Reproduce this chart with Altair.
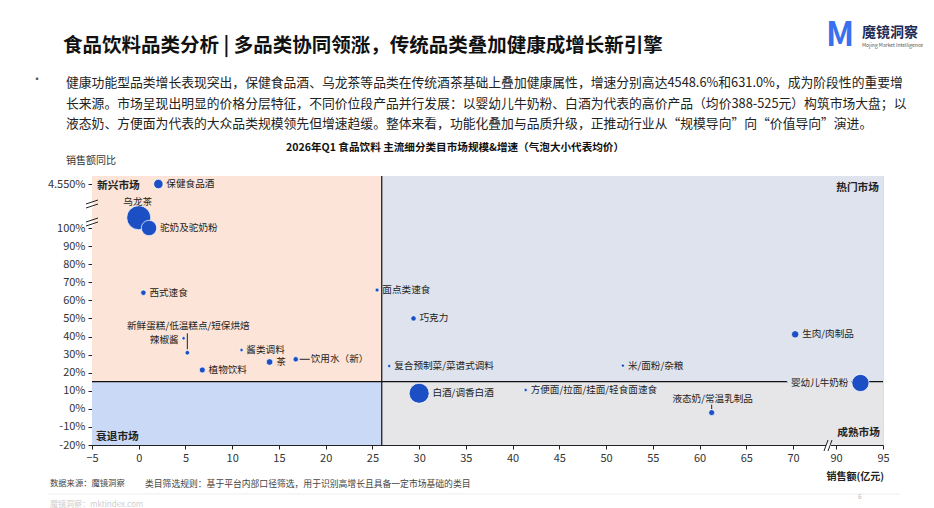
import math
import altair as alt
import pandas as pd

# ---------------- data ----------------
names = ["保健食品酒", "乌龙茶", "驼奶及驼奶粉", "西式速食", "面点类速食", "巧克力",
         "新鲜蛋糕/低温糕点/短保烘焙", "辣椒酱", "酱类调料", "茶", "饮用水（新）", "植物饮料",
         "复合预制菜/菜谱式调料", "白酒/调香白酒", "方便面/拉面/挂面/轻食面速食", "米/面粉/杂粮",
         "液态奶/常温乳制品", "生肉/肉制品", "婴幼儿牛奶粉"]
sales = [2.1, 0.0, 1.1, 0.5, 25.5, 29.4, 5.2, 4.8, 11.0, 14.0, 16.8, 6.8,
         26.8, 30.0, 41.4, 51.8, 61.3, 71.0, 92.6]          # 销售额(亿元)
growth = [4548.6, 631.0, 100.0, 64.2, 65.7, 50.0, 31.0, 39.0, 32.5, 25.9, 27.4, 21.5,
          23.7, 8.6, 10.4, 23.9, -2.1, 41.2, 14.3]           # 销售额同比(%)
price = [116, 756, 311, 38, 21, 38, 28, 15, 15, 57, 38, 47,
         15, 525, 15, 15, 47, 72, 388]                        # 均价(元) -> 气泡大小

x_ticks = [-5, 0, 5, 10, 15, 20, 25, 30, 35, 40, 45, 50, 55, 60, 65, 70, 90, 95]
y_ticks = [-20, -10, 0, 10, 20, 30, 40, 50, 60, 70, 80, 90, 100, 4550]
x_split = 26
y_split = 15

title_main = "食品饮料品类分析 | 多品类协同领涨，传统品类叠加健康成增长新引擎"
para_lines = [
    "健康功能型品类增长表现突出，保健食品酒、乌龙茶等品类在传统酒茶基础上叠加健康属性，增速分别高达4548.6%和631.0%，成为阶段性的重要增",
    "长来源。市场呈现出明显的价格分层特征，不同价位段产品并行发展：以婴幼儿牛奶粉、白酒为代表的高价产品（均价388-525元）构筑市场大盘；以",
    "液态奶、方便面为代表的大众品类规模领先但增速趋缓。整体来看，功能化叠加与品质升级，正推动行业从“规模导向”向“价值导向”演进。",
]
chart_title = "2026年Q1 食品饮料 主流细分类目市场规模&增速（气泡大小代表均价）"

# ---------------- layout / style ----------------
FONT = "Noto Sans CJK SC"
BLUE = "#1c4fc4"
PL, PT = 92, 176
W, H = 791, 269
SIZE_MAX_PRICE, SIZE_MAX = 525, 400
LABEL_SIZE = 9.6

df = pd.DataFrame({"name": names, "sales": sales, "growth": growth, "price": price})

xs = alt.Scale(domain=[-5, 70, 90, 95], range=[0, 701, 744, W], nice=False, zero=False)
ys = alt.Scale(domain=[-20, 100, 631, 4550], range=[H, 52, 41.7, 8], nice=False, zero=False)

X_AX = alt.Axis(values=x_ticks, labelFontSize=11, labelColor="#333", labelFont=FONT,
                tickColor="#222", domainColor="#222", tickSize=4, labelPadding=3,
                grid=False, labelFlush=False, labelOverlap=False, title=None)
Y_AX = alt.Axis(values=y_ticks, labelFontSize=11, labelColor="#333", labelFont=FONT,
                tickColor="#222", domainColor="#222", tickSize=4, labelPadding=3,
                grid=False, labelOverlap=False, title=None,
                labelExpr="datum.value == 4550 ? '4.550%' : datum.value + '%'")


def X(field):
    return alt.X(field, type="quantitative", scale=xs, axis=X_AX, title=None)


def Y(field):
    return alt.Y(field, type="quantitative", scale=ys, axis=Y_AX, title=None)


# quadrants
quad = pd.DataFrame({
    "x0": [-5, x_split, -5, x_split],
    "x1": [x_split, 95, x_split, 95],
    "y0": [y_split, y_split, -20, -20],
    "y1": [6000, 6000, y_split, y_split],
    "q": ["TL", "TR", "BL", "BR"],
})
quad_layer = alt.Chart(quad).mark_rect(clip=True).encode(
    x=X("x0"), x2="x1", y=Y("y0"), y2="y1",
    color=alt.Color("q:N", scale=alt.Scale(domain=["TL", "TR", "BL", "BR"],
                                           range=["#fce5d8", "#dee3ed", "#c9d9f6", "#e6e6e8"]),
                    legend=None),
)

vline = alt.Chart(pd.DataFrame({"x": [x_split], "y0": [-20], "y1": [6000]})).mark_rule(
    color="#111", strokeWidth=1.2, clip=True).encode(x=X("x"), y=Y("y0"), y2="y1")
hline = alt.Chart(pd.DataFrame({"y": [y_split], "x0": [-5], "x1": [95]})).mark_rule(
    color="#111", strokeWidth=1.2).encode(y=Y("y"), x=X("x0"), x2="x1")

bubbles = alt.Chart(df).mark_circle(opacity=1, color=BLUE, stroke="white", strokeWidth=0.7).encode(
    x=X("sales"), y=Y("growth"),
    size=alt.Size("price:Q", scale=alt.Scale(domain=[0, SIZE_MAX_PRICE], range=[0, SIZE_MAX], zero=True),
                  legend=None),
)

# label placement (layout only)
special = {
    "乌龙茶": dict(dx=-1, dy=-16, align="center"),
    "新鲜蛋糕/低温糕点/短保烘焙": dict(dx=1, dy=-26.5, align="center"),
    "辣椒酱": dict(dx=-5, dy=1.5, align="right"),
    "酱类调料": dict(dx=4.8, dy=-0.5, align="left"),
    "饮用水（新）": dict(dx=15, dy=0, align="left"),
    "液态奶/常温乳制品": dict(dx=1, dy=-13.5, align="center"),
    "婴幼儿牛奶粉": dict(dx=-12, dy=0, align="right"),
}

label_layers = []
for n, p in zip(names, price):
    r = math.sqrt(SIZE_MAX * p / SIZE_MAX_PRICE) / 2
    st = special.get(n, dict(dx=r + 3.3, dy=0, align="left"))
    base = alt.Chart(df).transform_filter(alt.datum.name == n)
    if n == "婴幼儿牛奶粉":
        label_layers.append(base.mark_text(font=FONT, fontSize=LABEL_SIZE, baseline="middle",
                                           stroke="#e3e5ea", strokeWidth=5, color="#e3e5ea",
                                           **st).encode(x=X("sales"), y=Y("growth"), text="name:N"))
    label_layers.append(base.mark_text(font=FONT, fontSize=LABEL_SIZE, color="#222", baseline="middle",
                                       **st).encode(x=X("sales"), y=Y("growth"), text="name:N"))

# leader lines
lead_cake = alt.Chart(df).transform_filter(alt.datum.name == "新鲜蛋糕/低温糕点/短保烘焙").mark_rule(
    color="#222", strokeWidth=1, yOffset=-19.5, y2Offset=-3.5).encode(x=X("sales"), y=Y("growth"), y2="growth")
lead_water = alt.Chart(df).transform_filter(alt.datum.name == "饮用水（新）").mark_rule(
    color="#222", strokeWidth=1, xOffset=4, x2Offset=14).encode(x=X("sales"), x2="sales", y=Y("growth"))
lead_milk = alt.Chart(df).transform_filter(alt.datum.name == "液态奶/常温乳制品").mark_rule(
    color="#222", strokeWidth=1, yOffset=-8, y2Offset=-3.5).encode(x=X("sales"), y=Y("growth"), y2="growth")


def txt(s, x, y, size=10, weight="normal", color="#222", align="left", baseline="middle", font=FONT):
    return alt.Chart(pd.DataFrame({"t": [s]})).mark_text(
        font=font, fontSize=size, fontWeight=weight, color=color, align=align, baseline=baseline,
    ).encode(x=alt.value(x - PL), y=alt.value(y - PT), text="t:N")


def seg(x1, y1, x2, y2, color="#222", w=1):
    return alt.Chart(pd.DataFrame({"a": [0]})).mark_rule(color=color, strokeWidth=w).encode(
        x=alt.value(x1 - PL), y=alt.value(y1 - PT), x2=alt.value(x2 - PL), y2=alt.value(y2 - PT))


texts = [
    txt(title_main, 63, 46, size=19.5, weight="bold", color="#111"),
    txt("·", 37, 80, size=12, color="#555", align="center"),
    txt(para_lines[0], 66, 83, size=12.8, color="#222"),
    txt(para_lines[1], 66, 104, size=12.8, color="#222"),
    txt(para_lines[2], 66, 124, size=12.8, color="#222"),
    txt(chart_title, 455, 148, size=10.6, weight="bold", color="#111", align="center"),
    txt("销售额同比", 66, 161, size=10, color="#333"),
    txt("销售额(亿元)", 884, 477, size=10, weight="bold", color="#222", align="right"),
    txt("新兴市场", 97, 186, size=10.7, weight="bold"),
    txt("热门市场", 879, 188, size=10.7, weight="bold", align="right"),
    txt("衰退市场", 96, 437, size=10.7, weight="bold"),
    txt("成熟市场", 880, 433, size=10.7, weight="bold", align="right"),
    txt("数据来源：魔镜洞察", 50, 484, size=8.3, color="#444"),
    txt("类目筛选规则：基于平台内部口径筛选，用于识别高增长且具备一定市场基础的类目", 145, 484, size=8.8, color="#444"),
    txt("魔镜洞察：mktindex.com", 50, 505, size=8, color="#cfcfcf"),
    txt("6", 860, 497, size=7, color="#bbbbbb", align="center"),
    txt("M", 840, 36, size=33, weight="bold", color="#3a70ee", align="center"),
    txt("魔镜洞察", 862, 33, size=14, weight="bold", color="#1d2b55"),
    txt("Mojing Market Intelligence", 862, 45, size=5, color="#555"),
]

breaks = [
    # y-axis breaks
    seg(92, 203, 92, 208, color="white", w=3),
    seg(86, 204, 98, 200), seg(86, 208, 98, 204),
    seg(92, 221, 92, 226, color="white", w=3),
    seg(86, 222, 98, 218), seg(86, 226, 98, 222),
    # x-axis break
    seg(826, 445, 831, 445, color="white", w=3),
    seg(824, 451, 828, 440), seg(828, 451, 832, 440),
    # footer separator
    seg(48, 494, 900, 494, color="#eeeeee", w=1),
]

chart = alt.layer(
    quad_layer, vline, hline, lead_cake, lead_water, lead_milk, bubbles,
    *label_layers, *breaks, *texts,
).properties(
    width=W, height=H,
    padding={"left": PL, "top": PT, "right": 934 - PL - W, "bottom": 508 - PT - H},
    autosize=alt.AutoSizeParams(type="none"),
).configure_view(stroke="#444", strokeWidth=1).configure(background="white")

chart.save("out.html", embed_options={"renderer": "svg", "actions": False})
